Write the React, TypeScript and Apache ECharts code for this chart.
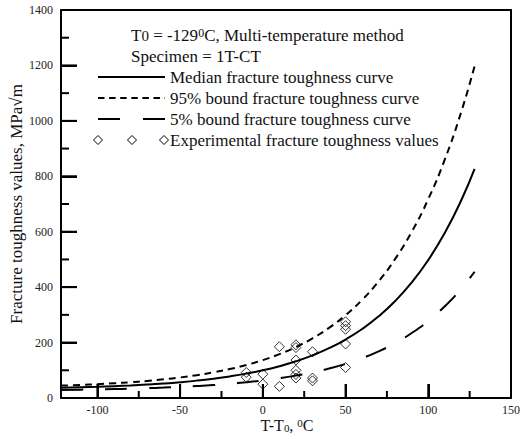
import React, { useEffect, useRef } from "react";
import * as echarts from "echarts";

// Temperature grid (T - T0, °C) at which the curves were read
const curveT = [-122, -110, -100, -90, -80, -70, -60, -50, -40, -30, -20, -10, 0, 10, 20, 30, 40, 50, 60, 70, 80, 90, 100, 110, 120, 128];
// Median fracture toughness curve (MPa√m)
const medianK = [36.9, 38.7, 40.5, 42.7, 45.3, 48.5, 52.4, 57.1, 62.7, 69.6, 77.9, 87.9, 100, 114.6, 132.4, 153.8, 179.7, 211.0, 248.9, 294.7, 350.1, 417.0, 498.0, 595.9, 714.4, 826.7];
// 95% bound curve
const upper95K = [44.7, 47.2, 49.9, 53.1, 56.9, 61.6, 67.3, 74.1, 82.4, 92.4, 104.5, 119.1, 136.8, 158.2, 184.1, 215.3, 253.1, 298.9, 354.2, 421.0, 501.9, 599.7, 717.9, 860.9, 1033.8, 1197.9];
// 5% bound curve
const lower5K = [29.1, 30.1, 31.1, 32.2, 33.7, 35.4, 37.5, 40.0, 43.1, 46.8, 51.3, 56.7, 63.2, 71.1, 80.7, 92.2, 106.2, 123.1, 143.6, 168.3, 198.2, 234.4, 278.1, 331.0, 395.0, 455.6];
// Experimental values
const expT = [-10, -10, 0, 0, 10, 10, 20, 20, 20, 20, 20, 20, 30, 30, 30, 50, 50, 50, 50, 50];
const expK = [92, 75, 86, 50, 185, 42, 192, 182, 137, 100, 85, 72, 167, 72, 62, 275, 261, 248, 195, 110];

// Axis ranges and tick values
const X_MIN = -122;
const X_MAX = 150;
const Y_MIN = 0;
const Y_MAX = 1400;
const xMajorTicks = [-100, -50, 0, 50, 100];
const xMinorTicks = [-75, -25, 25, 75, 125];
const yMajorTicks = [200, 400, 600, 800, 1000, 1200];
const yMinorTicks = [100, 300, 500, 700, 900, 1100, 1300];

const FONT = "Liberation Serif";

export default function App() {
  const ref = useRef<HTMLDivElement>(null);
  useEffect(() => {
    if (!ref.current) return;
    const chart = echarts.init(ref.current, undefined, { renderer: "svg" });
    const pairs = (ys: number[]) => curveT.map((t, i) => [t, ys[i]]);
    const legendX0 = 98;
    const legendX1 = 165;
    const textX = 170;
    const txt = (y: number, s: string) => ({
      type: "text",
      x: textX,
      y,
      style: { text: s, font: `17px ${FONT}`, fill: "#111", verticalAlign: "middle" },
    });
    const diamond = (cx: number, cy: number) => ({
      type: "polygon",
      shape: { points: [[cx, cy - 4.5], [cx + 4.5, cy], [cx, cy + 4.5], [cx - 4.5, cy]] },
      style: { fill: "none", stroke: "#000", lineWidth: 1 },
    });
    const blank = { show: false };
    const line2 = { color: "#000", width: 2 };
    const rich = {
      a: { fontSize: 16, fontFamily: FONT, fill: "#111", color: "#111" },
      sub: { fontSize: 11, fontFamily: FONT, fill: "#111", color: "#111", verticalAlign: "bottom" },
      sup: { fontSize: 11, fontFamily: FONT, fill: "#111", color: "#111", verticalAlign: "top" },
    };
    const baseGraphic: any[] = [
      {
        type: "text",
        x: 287,
        y: 425,
        style: { text: "{a|T-T}{sub|0}{a|, }{sup|0}{a|C}", align: "center", verticalAlign: "middle", rich },
      },
      {
        type: "text",
        x: 16,
        y: 204,
        rotation: Math.PI / 2,
        style: { text: "Fracture toughness values, MPa√m", font: `17px ${FONT}`, fill: "#111", align: "center", verticalAlign: "middle" },
      },
      {
        type: "text",
        x: 131,
        y: 35,
        style: {
          text: "{a|T}{s|0}{a| = -129}{sup|0}{a|C, Multi-temperature method}",
          verticalAlign: "middle",
          rich: {
            a: { fontSize: 17, fontFamily: FONT, fill: "#111", color: "#111" },
            s: { fontSize: 15, fontFamily: FONT, fill: "#111", color: "#111", verticalAlign: "bottom" },
            sup: { fontSize: 12, fontFamily: FONT, fill: "#111", color: "#111", verticalAlign: "top" },
          },
        },
      },
      { type: "text", x: 131, y: 56, style: { text: "Specimen = 1T-CT", font: `17px ${FONT}`, fill: "#111", verticalAlign: "middle" } },
      { type: "line", shape: { x1: legendX0, y1: 77, x2: legendX1, y2: 77 }, style: { stroke: "#000", lineWidth: 2 } },
      txt(77, "Median fracture toughness curve"),
      { type: "line", shape: { x1: legendX0, y1: 98, x2: legendX1, y2: 98 }, style: { stroke: "#000", lineWidth: 2, lineDash: [6.5, 4.6] } },
      txt(98, "95% bound fracture toughness curve"),
      { type: "line", shape: { x1: legendX0, y1: 119, x2: legendX1, y2: 119 }, style: { stroke: "#000", lineWidth: 2, lineDash: [22, 23] } },
      txt(119, "5% bound fracture toughness curve"),
      diamond(98, 140),
      diamond(132, 140),
      diamond(164, 140),
      txt(140, "Experimental fracture toughness values"),
    ];
    chart.setOption({
      animation: false,
      grid: { left: 61, right: 9, top: 10, bottom: 41 },
      xAxis: [
        {
          type: "value",
          min: X_MIN,
          max: X_MAX,
          minInterval: 50,
          maxInterval: 50,
          position: "bottom",
          axisLine: { show: true, onZero: false, lineStyle: line2 },
          axisTick: { show: true, inside: true, length: 14, lineStyle: line2 },
          axisLabel: { fontSize: 12, fontFamily: FONT, color: "#222", margin: 6, showMinLabel: false },
          splitLine: blank,
        },
        {
          type: "value",
          min: X_MIN,
          max: X_MAX,
          position: "top",
          axisLine: { show: true, onZero: false, lineStyle: line2 },
          axisTick: blank,
          axisLabel: blank,
          splitLine: blank,
        },
      ],
      yAxis: [
        {
          type: "value",
          min: Y_MIN,
          max: Y_MAX,
          interval: 200,
          position: "left",
          axisLine: { show: true, onZero: false, lineStyle: line2 },
          axisTick: { show: true, inside: true, length: 16, lineStyle: line2 },
          axisLabel: { fontSize: 12, fontFamily: FONT, color: "#222", margin: 8, formatter: (v: number) => String(v) },
          splitLine: blank,
        },
        {
          type: "value",
          min: Y_MIN,
          max: Y_MAX,
          position: "right",
          axisLine: { show: true, onZero: false, lineStyle: line2 },
          axisTick: blank,
          axisLabel: blank,
          splitLine: blank,
        },
      ],
      series: [
        { type: "line", name: "Median", data: pairs(medianK), smooth: true, symbol: "none", lineStyle: { color: "#000", width: 2 } },
        { type: "line", name: "95%", data: pairs(upper95K), smooth: true, symbol: "none", lineStyle: { color: "#000", width: 2, type: [7, 5] } },
        { type: "line", name: "5%", data: pairs(lower5K), smooth: true, symbol: "none", lineStyle: { color: "#000", width: 2, type: [22, 22] } },
        {
          type: "scatter",
          name: "Experimental",
          data: expT.map((t, i) => [t, expK[i]]),
          symbol: "diamond",
          symbolSize: 10,
          itemStyle: { color: "rgba(0,0,0,0)", borderColor: "#000", borderWidth: 1 },
          z: 5,
        },
      ],
      graphic: baseGraphic,
    });
    // tick marks placed through the chart's own scales
    const finder = { xAxisIndex: 0, yAxisIndex: 0 };
    const tickLines: any[] = [];
    const addX = (v: number, len: number) => {
      const p = chart.convertToPixel(finder, [v, Y_MIN]) as number[];
      if (p) tickLines.push({ type: "line", z: 100, shape: { x1: p[0], y1: p[1], x2: p[0], y2: p[1] - len }, style: { stroke: "#000", lineWidth: 2 } });
    };
    const addY = (v: number, len: number) => {
      const p = chart.convertToPixel(finder, [X_MIN, v]) as number[];
      if (p) tickLines.push({ type: "line", z: 100, shape: { x1: p[0], y1: p[1], x2: p[0] + len, y2: p[1] }, style: { stroke: "#000", lineWidth: 2 } });
    };
    xMajorTicks.forEach((v) => addX(v, 14));
    xMinorTicks.forEach((v) => addX(v, 7));
    yMajorTicks.forEach((v) => addY(v, 16));
    yMinorTicks.forEach((v) => addY(v, 8));
    chart.setOption({ graphic: [...baseGraphic, ...tickLines] });
    return () => chart.dispose();
  }, []);
  return <div ref={ref} style={{ position: "absolute", left: 0, top: 0, width: 523, height: 439 }} />;
}
